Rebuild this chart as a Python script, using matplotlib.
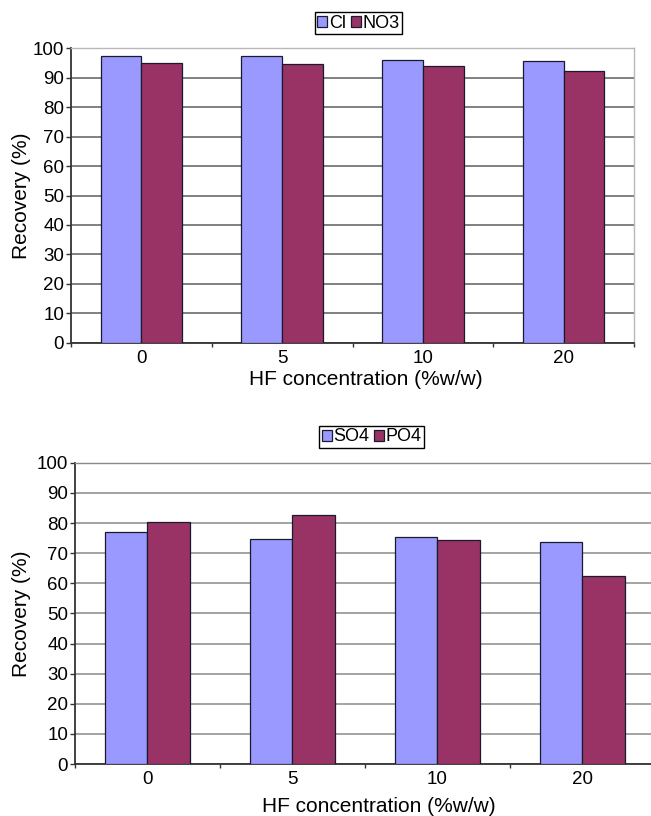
import numpy as np
import matplotlib.pyplot as plt

plt.rcParams['font.family'] = ['Liberation Sans', 'DejaVu Sans']

hf_conc = ['0', '5', '10', '20']

cl = [97.5, 97.4, 96.0, 95.6]
no3 = [95.0, 94.8, 94.1, 92.3]

so4 = [77.1, 74.6, 75.4, 73.6]
po4 = [80.3, 82.6, 74.3, 62.5]

blue = '#9999ff'
plum = '#993366'
bar_w = 0.29


def recovery_panel(ax, s1, s2, names, legend_xy, xlabel_y, ylabel_x, grid_col):
    x = np.arange(len(hf_conc))
    b1 = ax.bar(x - bar_w / 2, s1, bar_w, color=blue, edgecolor='#1a1a2e',
                linewidth=0.9, zorder=3)
    b2 = ax.bar(x + bar_w / 2, s2, bar_w, color=plum, edgecolor='#1a1a2e',
                linewidth=0.9, zorder=3)

    ax.set_xlim(-0.5, len(hf_conc) - 0.5)
    ax.set_ylim(0, 100)
    ax.set_yticks(range(0, 101, 10))
    ax.set_xticks(x)
    ax.set_xticklabels(hf_conc)
    ax.set_xticks(np.arange(-0.5, len(hf_conc)), minor=True)
    ax.tick_params(axis='x', which='major', length=0, pad=5, labelsize=13.5)
    ax.tick_params(axis='x', which='minor', length=3, width=1, color='#333333')
    ax.tick_params(axis='y', length=3.5, width=1, pad=1.5, labelsize=13.5,
                   color='#333333')

    ax.yaxis.grid(True, color=grid_col, linewidth=1.1, zorder=0)
    ax.set_axisbelow(True)
    for side in ('left', 'bottom'):
        ax.spines[side].set_color('#333333')
        ax.spines[side].set_linewidth(1.3)
    for side in ('top', 'right'):
        ax.spines[side].set_color('#b8b8b8')
        ax.spines[side].set_linewidth(1.0)

    ax.set_xlabel('HF concentration (%w/w)', fontsize=15)
    ax.xaxis.set_label_coords(0.523, xlabel_y)
    ax.set_ylabel('Recovery (%)', fontsize=15)
    ax.yaxis.set_label_coords(ylabel_x, 0.5)

    ax.figure.legend([b1, b2], names, loc='center', bbox_to_anchor=legend_xy,
                     ncol=2, fontsize=13, handlelength=0.55, handleheight=0.55,
                     handletextpad=0.1, columnspacing=0.25, borderpad=0.15,
                     borderaxespad=0, fancybox=False, framealpha=1,
                     edgecolor='black')


fig = plt.figure(figsize=(6.51, 8.16), dpi=100)

ax1 = fig.add_axes([0.1091, 0.58, 0.8648, 0.3608])
recovery_panel(ax1, cl, no3, ['Cl', 'NO3'], (0.5507, 0.9718), -0.093, -0.071,
               '#5e5e5e')

ax2 = fig.add_axes([0.1152, 0.0637, 0.8909, 0.3692])
recovery_panel(ax2, so4, po4, ['SO4', 'PO4'], (0.5708, 0.4645), -0.108, -0.075,
               '#8a8a8a')
ax2.spines['top'].set_color('#8a8a8a')

fig.savefig('out.png', dpi=100, facecolor='white')
